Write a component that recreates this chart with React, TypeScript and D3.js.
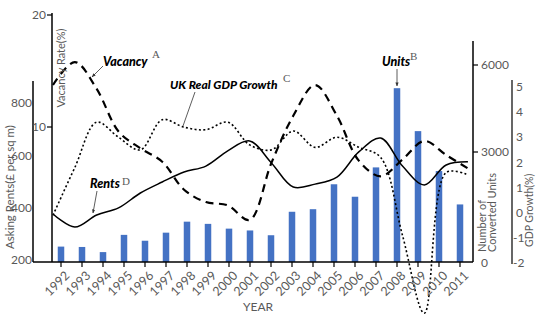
import React from "react";
import * as d3 from "d3";

const years = ["1992","1993","1994","1995","1996","1997","1998","1999","2000","2001","2002","2003","2004","2005","2006","2007","2008","2009","2010","2011"];
const units = [420, 410, 270, 740, 580, 800, 1100, 1040, 910, 860, 730, 1370, 1440, 2120, 1780, 2580, 5200, 3720, 2480, 1570];
const rents = [376, 326, 372, 399, 456, 498, 536, 559, 617, 655, 571, 479, 490, 517, 613, 666, 559, 487, 563, 575];
const vacancy = [13.75, 15.8, 13.4, 9.6, 8.1, 6.9, 4.4, 3.3, 3.0, 1.7, 6.8, 11.0, 13.75, 11.0, 7.0, 5.6, 7.1, 8.75, 7.5, 6.3];
const gdp = [-0.1, 1.8, 3.6, 3.0, 2.5, 3.7, 3.4, 3.3, 3.6, 2.7, 2.5, 3.25, 2.6, 3.0, 2.6, 2.2, -0.9, -4.0, 1.6, 1.5];

const rentTicks = [200, 400, 600, 800];
const vacTicks = [10, 20];
const unitTicks = [0, 3000, 6000];
const gdpTicks = [-2, -1, 0, 1, 2, 3, 4, 5];

const GREY = "#595959";
const FONT = "Lato, 'Open Sans', sans-serif";
const SERIF = "'Liberation Serif', 'DejaVu Serif', serif";

export default function App() {
  const xBar = d3.scalePoint<string>().domain(years).range([61, 460]);
  const xLine = d3.scalePoint<string>().domain(years).range([53, 468]);
  const yRent = d3.scaleLinear().domain([200, 800]).range([260, 103]);
  const yVac = d3.scaleLinear().domain([10, 20]).range([127, 15]);
  const yUnits = d3.scaleLinear().domain([0, 3000, 6000]).range([262, 152, 65]);
  const yGdp = d3.scaleLinear().domain([-2, 5]).range([263, 87]);

  const curve = d3.curveCatmullRom.alpha(0.5);
  const mk = (vals: number[], ys: (v: number) => number) =>
    d3.line<number>().x((_, i) => xLine(years[i]) as number).y((v) => ys(v)).curve(curve)(vals) || "";

  const rentPath = mk(rents, yRent);
  const vacPath = mk(vacancy, yVac);
  const gdpPath = mk(gdp, yGdp);

  const barW = 6.5;
  const baseY = 262;

  return (
    <svg width={540} height={323} style={{ position: "absolute", left: 0, top: 0, background: "#fff" }} fontFamily={FONT}>
      <defs>
        <marker id="arr" viewBox="0 0 10 10" refX="9" refY="5" markerWidth="5" markerHeight="5" orient="auto">
          <path d="M0,1 L10,5 L0,9 z" fill="#333" />
        </marker>
      </defs>

      {/* bars */}
      {units.map((u, i) => (
        <rect key={years[i]} x={(xBar(years[i]) as number) - barW / 2} y={yUnits(u)} width={barW} height={baseY - yUnits(u)} fill="#4472C4" />
      ))}

      {/* lines */}
      <path d={gdpPath} fill="none" stroke="#000" strokeWidth={1.6} strokeDasharray="2,2.4" />
      <path d={vacPath} fill="none" stroke="#000" strokeWidth={2.2} strokeDasharray="8,5.5" />
      <path d={rentPath} fill="none" stroke="#000" strokeWidth={1.5} />

      {/* x axis */}
      <line x1={33} x2={473} y1={baseY} y2={baseY} stroke="#000" strokeWidth={1.5} />
      {years.map((y) => {
        const x = xBar(y) as number;
        return (
          <g key={y}>
            <line x1={x} x2={x} y1={baseY} y2={baseY + 5} stroke="#000" strokeWidth={1.2} />
            <text transform={`translate(${x + 3},${baseY + 8}) rotate(-45)`} textAnchor="end" dy="0.71em" fontSize={12.5} fill={GREY}>{y}</text>
          </g>
        );
      })}
      <text x={258} y={311} textAnchor="middle" fontSize={12} fill={GREY}>YEAR</text>

      {/* rents axis */}
      <line x1={33} x2={33} y1={81} y2={262} stroke="#000" strokeWidth={1.5} />
      {rentTicks.map((t) => (
        <text key={t} x={32} y={yRent(t)} dy="0.35em" textAnchor="end" fontSize={12} fill={GREY}>{t}</text>
      ))}
      <text transform="translate(14,187) rotate(-90)" textAnchor="middle" fontSize={11.5} fill={GREY}>Asking Rents(£ per sq m)</text>

      {/* vacancy axis */}
      <line x1={52} x2={52} y1={13} y2={262} stroke="#000" strokeWidth={1.5} />
      {vacTicks.map((t) => (
        <g key={t}>
          <line x1={47} x2={52} y1={yVac(t)} y2={yVac(t)} stroke="#000" strokeWidth={1.2} />
          <text x={46} y={yVac(t)} dy="0.35em" textAnchor="end" fontSize={12} fill={GREY}>{t}</text>
        </g>
      ))}
      <text transform="translate(65,68) rotate(-90)" textAnchor="middle" fontSize={11} fill={GREY}>Vacancy Rate(%)</text>

      {/* units axis */}
      <line x1={473} x2={473} y1={41} y2={262} stroke="#000" strokeWidth={1.5} />
      {unitTicks.map((t) => (
        <g key={t}>
          {t > 0 && <line x1={473} x2={478} y1={yUnits(t)} y2={yUnits(t)} stroke="#000" strokeWidth={1.2} />}
          <text x={481} y={t === 0 ? 263 : yUnits(t)} dy="0.35em" textAnchor="start" fontSize={12} fill={GREY}>{t}</text>
        </g>
      ))}
      <text transform="translate(486,252) rotate(-90)" textAnchor="start" fontSize={11} fill={GREY}>Number of</text>
      <text transform="translate(496,252) rotate(-90)" textAnchor="start" fontSize={11} fill={GREY}>Converted Units</text>

      {/* gdp axis */}
      <line x1={512} x2={512} y1={80} y2={264} stroke="#000" strokeWidth={1.2} />
      {gdpTicks.map((t) => (
        <text key={t} x={t < 0 ? 513 : 516} y={yGdp(t)} dy="0.35em" textAnchor="start" fontSize={12} fill={GREY}>{t}</text>
      ))}
      <text transform="translate(533,247) rotate(-90)" textAnchor="start" fontSize={10.5} fill={GREY}>GDP Growth(%)</text>

      {/* annotations */}
      <text x={103} y={66} fontSize={12.5} fontWeight="900" fontStyle="italic" fill="#000">Vacancy</text>
      <text x={152} y={58} fontSize={11} fontFamily={SERIF} fill={GREY}>A</text>
      <line x1={103} y1={66} x2={92} y2={77} stroke="#333" strokeWidth={0.8} markerEnd="url(#arr)" />

      <text x={170} y={89} fontSize={12} fontWeight="900" fontStyle="italic" fill="#000">UK Real GDP Growth</text>
      <text x={283} y={82} fontSize={11} fontFamily={SERIF} fill={GREY}>C</text>
      <line x1={195} y1={92} x2={183} y2={126} stroke="#333" strokeWidth={0.8} />

      <text x={382} y={66} fontSize={12.5} fontWeight="900" fontStyle="italic" fill="#000">Units</text>
      <text x={410} y={60} fontSize={11} fontFamily={SERIF} fill={GREY}>B</text>
      <line x1={397} y1={69} x2={397} y2={86} stroke="#333" strokeWidth={0.8} markerEnd="url(#arr)" />

      <text x={90} y={188} fontSize={12.5} fontWeight="900" fontStyle="italic" fill="#000">Rents</text>
      <text x={122} y={185} fontSize={11} fontFamily={SERIF} fill={GREY}>D</text>
      <line x1={97} y1={191} x2={93} y2={213} stroke="#333" strokeWidth={0.8} markerEnd="url(#arr)" />
    </svg>
  );
}
